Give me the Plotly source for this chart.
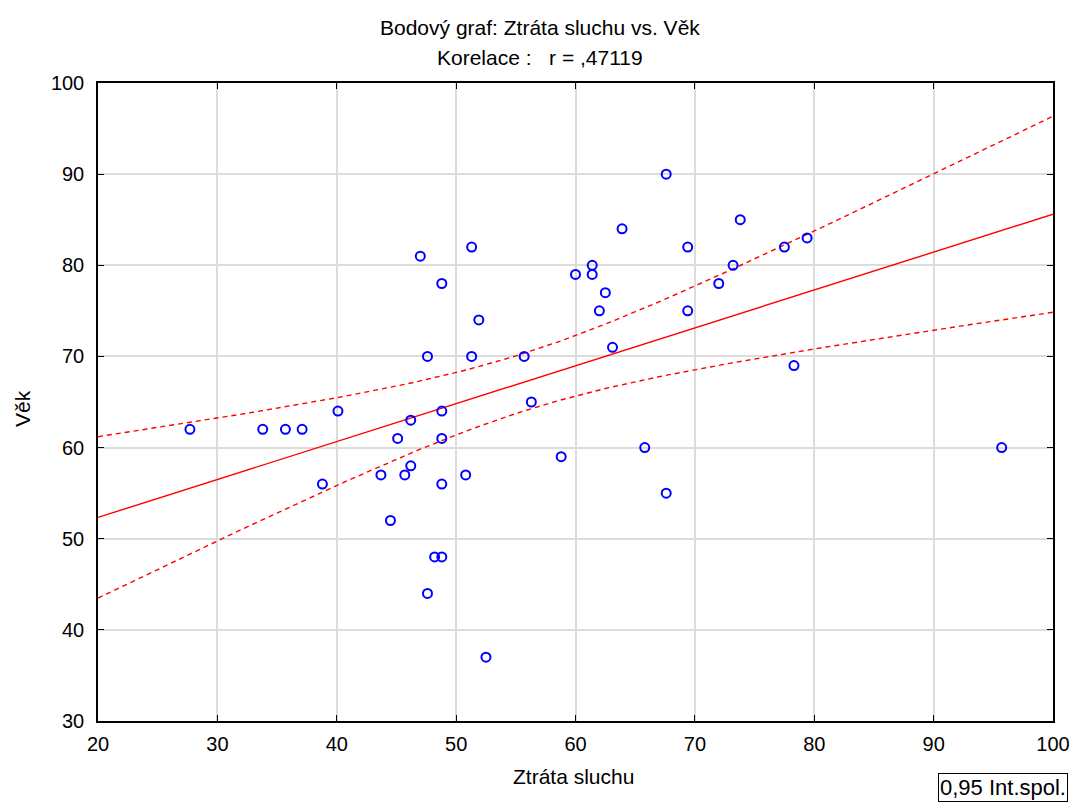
import numpy as np
import plotly.graph_objects as go

# Data
ztrata_sluchu = [27.7, 33.8, 35.7, 37.1, 40.1, 38.8, 43.7, 44.5, 45.1, 45.7, 46.2, 46.2,
                 47.0, 47.6, 47.6, 48.2, 48.8, 48.8, 48.8, 48.8, 48.8, 50.8, 51.3, 51.3,
                 51.9, 52.5, 55.7, 56.3, 58.8, 60.0, 61.4, 61.4, 62.0, 62.5, 63.1, 63.9,
                 65.8, 67.6, 67.6, 69.4, 69.4, 72.0, 73.2, 73.8, 77.5, 78.3, 79.4, 95.7]
vek = [62, 62, 62, 62, 64, 56, 57, 52, 61, 57, 58, 63,
       81, 70, 44, 48, 48, 78, 64, 61, 56, 57, 82, 70,
       74, 37, 70, 65, 59, 79, 80, 79, 75, 77, 71, 84,
       60, 90, 55, 82, 75, 78, 80, 85, 82, 69, 83, 60]

x_ticks = [20, 30, 40, 50, 60, 70, 80, 90, 100]
y_ticks = [30, 40, 50, 60, 70, 80, 90, 100]

title_line1 = "Bodový graf: Ztráta sluchu vs. Věk"
title_line2 = "Korelace :   r = ,47119"
x_title = "Ztráta sluchu"
y_title = "Věk"
legend_text = "0,95 Int.spol."
t_crit = 2.013  # t(0.975, n-2)

# Linear fit and 95% confidence band from the data
xa = np.array(ztrata_sluchu)
ya = np.array(vek)
n = len(xa)
b1, b0 = np.polyfit(xa, ya, 1)
resid = ya - (b0 + b1 * xa)
s = np.sqrt(np.sum(resid ** 2) / (n - 2))
xbar = xa.mean()
sxx = np.sum((xa - xbar) ** 2)
xg = np.linspace(20, 100, 161)
yfit = b0 + b1 * xg
half = t_crit * s * np.sqrt(1 / n + (xg - xbar) ** 2 / sxx)

FONT = "Liberation Sans, Arial"
fig = go.Figure()
fig.add_trace(go.Scatter(x=xg, y=yfit + half, mode="lines",
                         line=dict(color="#ff0000", width=1.4, dash="5px,4px"),
                         hoverinfo="skip", showlegend=False))
fig.add_trace(go.Scatter(x=xg, y=yfit - half, mode="lines",
                         line=dict(color="#ff0000", width=1.4, dash="5px,4px"),
                         hoverinfo="skip", showlegend=False))
fig.add_trace(go.Scatter(x=xg, y=yfit, mode="lines",
                         line=dict(color="#ff0000", width=1.4),
                         hoverinfo="skip", showlegend=False))
fig.add_trace(go.Scatter(x=ztrata_sluchu, y=vek, mode="markers",
                         marker=dict(symbol="circle-open", size=9, color="#0000ff",
                                     line=dict(width=2, color="#0000ff")),
                         showlegend=False))

axis_common = dict(showgrid=True, gridcolor="#dcdcdc", gridwidth=1.5,
                   showline=True, linecolor="#000000", linewidth=1.5, mirror="ticks",
                   ticks="inside", ticklen=6, tickcolor="#000000", tickwidth=1,
                   zeroline=False,
                   tickfont=dict(family=FONT, size=20, color="#000000"))

fig.update_layout(
    width=1082, height=803,
    margin=dict(l=98, r=27, t=83, b=82),
    paper_bgcolor="#ffffff", plot_bgcolor="#ffffff",
    font=dict(family=FONT, color="#000000"),
    xaxis=dict(range=[20, 100], tickvals=x_ticks, ticklabelstandoff=4, **axis_common),
    yaxis=dict(range=[30, 100], tickvals=y_ticks, ticklabelstandoff=8, **axis_common),
    showlegend=False,
)

fig.add_annotation(text=title_line1, xref="paper", yref="paper", x=0.463,
                   xanchor="center", y=1.0, yshift=56, yanchor="middle",
                   showarrow=False, font=dict(size=21))
fig.add_annotation(text=title_line2, xref="paper", yref="paper", x=0.463,
                   xanchor="center", y=1.0, yshift=26, yanchor="middle",
                   showarrow=False, font=dict(size=21))
fig.add_annotation(text=x_title, xref="paper", yref="paper", x=0.498,
                   xanchor="center", y=0, yshift=-55, yanchor="middle",
                   showarrow=False, font=dict(size=21))
fig.add_annotation(text=y_title, xref="paper", yref="paper", x=0, xshift=-76,
                   xanchor="center", y=0.489, yanchor="middle", textangle=-90,
                   showarrow=False, font=dict(size=21))
fig.add_annotation(text=legend_text, xref="paper", yref="paper", x=0.8798,
                   xanchor="left", y=0, yshift=-52, yanchor="top",
                   showarrow=False, font=dict(size=22),
                   bordercolor="#000000", borderwidth=1, borderpad=1,
                   bgcolor="#ffffff")

fig.write_html("out.html")
